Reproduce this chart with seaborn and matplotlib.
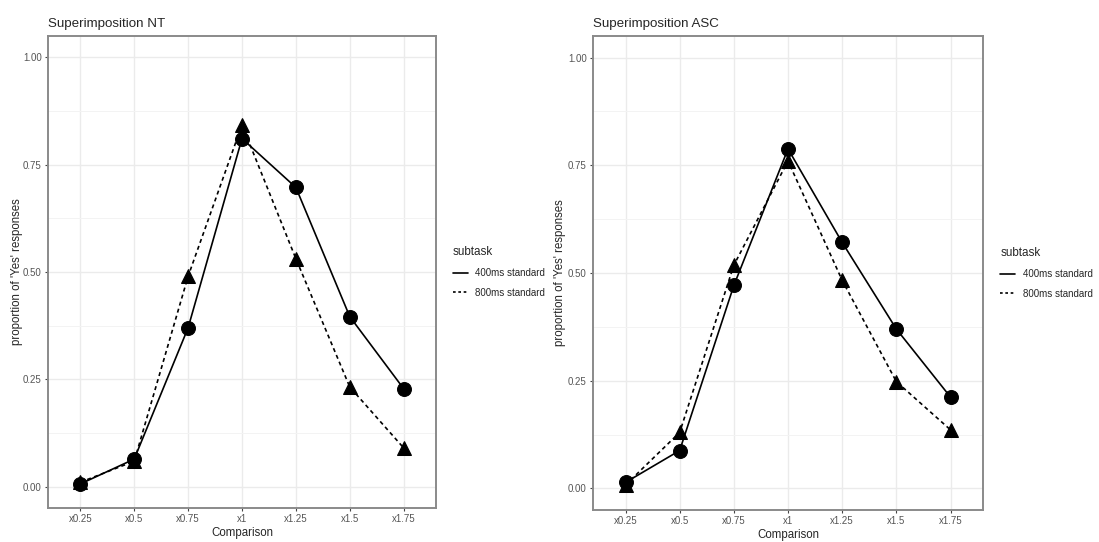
import matplotlib
matplotlib.use("Agg")
import matplotlib.pyplot as plt
from matplotlib.lines import Line2D
import seaborn as sns
import pandas as pd

comparisons = ["x0.25", "x0.5", "x0.75", "x1", "x1.25", "x1.5", "x1.75"]
subtasks = ["400ms standard", "800ms standard"]
nt_400 = [0.006, 0.064, 0.370, 0.811, 0.697, 0.396, 0.228]
nt_800 = [0.010, 0.059, 0.490, 0.843, 0.531, 0.232, 0.090]
asc_400 = [0.014, 0.088, 0.471, 0.788, 0.571, 0.370, 0.212]
asc_800 = [0.008, 0.130, 0.518, 0.760, 0.483, 0.248, 0.136]
titles = ["Superimposition NT", "Superimposition ASC"]
yticks = [0.0, 0.25, 0.5, 0.75, 1.0]
ytick_labels = ["0.00", "0.25", "0.50", "0.75", "1.00"]

sns.set_style("white")
plt.rcParams["font.family"] = ["Liberation Sans", "DejaVu Sans"]

def make_df(v400, v800):
    rows = []
    for s, vals in zip(subtasks, [v400, v800]):
        for c, v in zip(comparisons, vals):
            rows.append({"Comparison": c, "prop": v, "subtask": s})
    return pd.DataFrame(rows)

fig = plt.figure(figsize=(10.99, 5.42), dpi=100)
W, H = 1099, 542
axes_pos = [
    [48/W, (H-508)/H, 388/W, 472/H],
    [593/W, (H-510)/H, 390/W, 474/H],
]
ylabel_x = [-0.064, -0.069]
data = [(nt_400, nt_800), (asc_400, asc_800)]

for pos, (v4, v8), title, ylx in zip(axes_pos, data, titles, ylabel_x):
    ax = fig.add_axes(pos)
    df = make_df(v4, v8)
    df["pos"] = df["Comparison"].map({c: i for i, c in enumerate(comparisons)})
    sns.lineplot(data=df, x="pos", y="prop", style="subtask",
                 markers={"400ms standard": "o", "800ms standard": "^"},
                 dashes={"400ms standard": "", "800ms standard": (2.4, 2.0)},
                 color="black", markersize=10, linewidth=1.2,
                 markeredgecolor="black", ax=ax, legend=False, zorder=3)
    ax.set_xlim(-0.6, 6.6)
    ax.set_ylim(-0.05, 1.05)
    ax.set_xticks(range(len(comparisons)))
    ax.set_xticklabels(comparisons)
    ax.set_yticks(yticks)
    ax.set_yticklabels(ytick_labels)
    ax.set_yticks([0.125, 0.375, 0.625, 0.875], minor=True)
    ax.grid(True, which="major", color="#ebebeb", linewidth=1.0, zorder=0)
    ax.grid(True, which="minor", axis="y", color="#f3f3f3", linewidth=0.7, zorder=0)
    ax.set_axisbelow(True)
    for sp in ax.spines.values():
        sp.set_color("#8a8a8a")
        sp.set_linewidth(1.4)
    ax.tick_params(axis="both", which="major", labelsize=7, labelcolor="#555555",
                   color="#444444", length=2.5, width=0.8, pad=2,
                   left=True, bottom=True)
    ax.tick_params(axis="both", which="minor", length=0)
    ax.set_xlabel("Comparison", fontsize=8.3, labelpad=2)
    ax.set_ylabel("proportion of 'Yes' responses", fontsize=8.3)
    ax.yaxis.set_label_coords(ylx, 0.5)
    ax.set_title(title, loc="left", fontsize=9.6, pad=6.5, x=0.0)
    handles = [Line2D([], [], color="black", linewidth=1.2, linestyle="-"),
               Line2D([], [], color="black", linewidth=1.2, linestyle=(0, (1.6, 1.6)))]
    leg = ax.legend(handles, subtasks, title="subtask", loc="center left",
                    bbox_to_anchor=(1.044, 0.5), frameon=False, fontsize=7,
                    title_fontsize=8.4, handlelength=1.55, handletextpad=0.75,
                    labelspacing=1.0, borderpad=0, borderaxespad=0)
    leg._legend_box.align = "left"

fig.savefig("out.png", dpi=100, facecolor="white")
